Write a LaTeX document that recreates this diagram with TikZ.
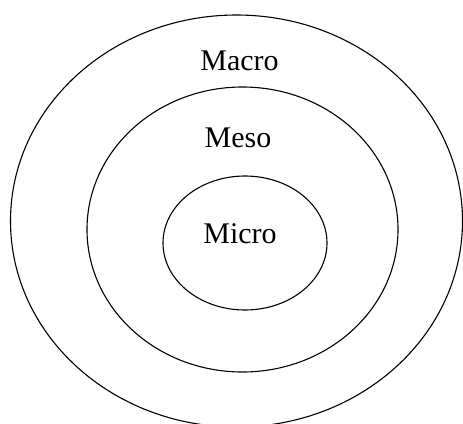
\documentclass[tikz,border=0pt]{standalone}
\usepackage{fontspec}
\setmainfont{Liberation Serif}
\usepackage{tikz}

\begin{document}
\begin{tikzpicture}[x=1pt, y=1pt, line join=round, line cap=round,
  ring/.style={line width=1.1pt, black},
  lbl/.style={anchor=base, inner sep=0pt, font=\fontsize{30}{30}\selectfont}]

\useasboundingbox (0,0) rectangle (463,-423);
\clip (0,0) rectangle (463,-423);

% centres of the three levels
\coordinate (cmacro) at (236.5,-221);
\coordinate (cmeso) at (242.5,-229.5);
\coordinate (cmicro) at (245,-243);

% rings
\draw[ring] (cmacro) ellipse (226 and 206);
\draw[ring] (cmeso) ellipse (155.5 and 142.5);
\draw[ring] (cmicro) ellipse (82 and 67);

% Labels
\node[lbl] (macro) at (239.5,-70) {Macro};
\node[lbl] (meso) at (238,-147) {Meso};
\node[lbl] (micro) at (240,-243) {Micro};

\end{tikzpicture}
\end{document}
